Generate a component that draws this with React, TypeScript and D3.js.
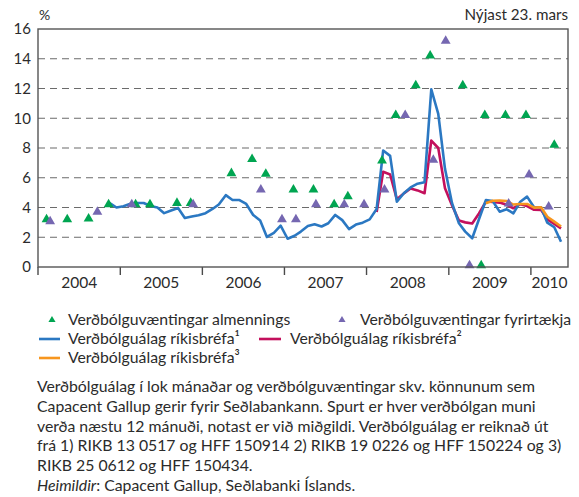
import React from 'react'
import * as d3 from 'd3'

// monthly inflation premium, ríkisbréf 1 (mid-month points)
const blueMonths = ['2004-11', '2004-12', '2005-01', '2005-02', '2005-03', '2005-04', '2005-05', '2005-06', '2005-07', '2005-08', '2005-09', '2005-10', '2005-11', '2005-12', '2006-01', '2006-02', '2006-03', '2006-04', '2006-05', '2006-06', '2006-07', '2006-08', '2006-09', '2006-10', '2006-11', '2006-12', '2007-01', '2007-02', '2007-03', '2007-04', '2007-05', '2007-06', '2007-07', '2007-08', '2007-09', '2007-10', '2007-11', '2007-12', '2008-01', '2008-02', '2008-03', '2008-04', '2008-05', '2008-06', '2008-07', '2008-08', '2008-09', '2008-10', '2008-11', '2008-12', '2009-01', '2009-02', '2009-03', '2009-04', '2009-05', '2009-06', '2009-07', '2009-08', '2009-09', '2009-10', '2009-11', '2009-12', '2010-01', '2010-02', '2010-03', '2010-04', '2010-05']
const blueValues = [4.3, 4.0, 4.08, 4.25, 4.3, 4.3, 4.1, 4.0, 3.62, 3.8, 3.97, 3.3, 3.4, 3.48, 3.62, 3.9, 4.2, 4.83, 4.5, 4.5, 4.24, 3.5, 3.13, 2.02, 2.3, 2.78, 1.9, 2.1, 2.38, 2.75, 2.87, 2.72, 2.94, 3.5, 3.15, 2.55, 2.85, 2.98, 3.2, 3.9, 7.83, 7.47, 4.39, 4.96, 5.35, 5.6, 5.7, 11.95, 10.3, 6.6, 4.3, 2.94, 2.38, 1.93, 3.21, 4.5, 4.44, 3.72, 3.88, 3.61, 4.39, 4.73, 4.02, 4.02, 2.98, 2.67, 1.7]

// ríkisbréf 2
const redMonths = ['2008-02', '2008-03', '2008-04', '2008-05', '2008-06', '2008-07', '2008-08', '2008-09', '2008-10', '2008-11', '2008-12', '2009-01', '2009-02', '2009-03', '2009-04', '2009-05', '2009-06', '2009-07', '2009-08', '2009-09', '2009-10', '2009-11', '2009-12', '2010-01', '2010-02', '2010-03', '2010-04', '2010-05']
const redValues = [3.7, 6.4, 6.22, 4.55, 4.95, 5.28, 5.15, 4.96, 8.5, 8.0, 5.3, 4.15, 3.12, 3.0, 2.92, 3.6, 4.4, 4.38, 4.33, 4.18, 3.95, 4.22, 4.1, 3.85, 3.84, 3.2, 2.9, 2.6]

// ríkisbréf 3
const orangeMonths = ['2009-06', '2009-07', '2009-08', '2009-09', '2009-10', '2009-11', '2009-12', '2010-01', '2010-02', '2010-03', '2010-04', '2010-05']
const orangeValues = [4.29, 4.45, 4.46, 4.44, 4.2, 4.24, 4.24, 3.99, 4.02, 3.38, 3.05, 2.72]

// survey expectations, public (almennings)
const publicDates = ['2004-02-08', '2004-05-10', '2004-08-13', '2004-11-10', '2005-03-10', '2005-05-13', '2005-09-10', '2005-11-10', '2006-05-10', '2006-08-10', '2006-10-10', '2007-02-10', '2007-05-10', '2007-08-10', '2007-10-10', '2008-03-10', '2008-05-10', '2008-08-07', '2008-10-10', '2009-03-04', '2009-05-25', '2009-06-10', '2009-09-10', '2009-12-10', '2010-04-15']
const publicValues = [3.2, 3.2, 3.25, 4.2, 4.2, 4.2, 4.3, 4.3, 6.3, 7.25, 6.25, 5.2, 5.2, 4.2, 4.75, 7.15, 10.2, 12.2, 14.2, 12.2, 0.1, 10.2, 10.2, 10.2, 8.2]

// survey expectations, companies (fyrirtækja)
const firmDates = ['2004-02-24', '2004-09-21', '2005-02-21', '2005-11-21', '2006-09-18', '2006-12-21', '2007-02-21', '2007-05-21', '2007-09-24', '2007-12-21', '2008-03-21', '2008-06-21', '2008-10-24', '2008-12-18', '2009-04-03', '2009-09-24', '2009-12-24', '2010-03-21']
const firmValues = [3.07, 3.7, 4.2, 4.2, 5.2, 3.2, 3.2, 4.2, 4.2, 4.2, 5.2, 10.2, 7.2, 15.2, 0.1, 4.25, 6.2, 4.05]

const yTicks = [0, 2, 4, 6, 8, 10, 12, 14, 16]
const years = [2004, 2005, 2006, 2007, 2008, 2009, 2010]

const notes = [
  'Verðbólguálag í lok mánaðar og verðbólguvæntingar skv. könnunum sem',
  'Capacent Gallup gerir fyrir Seðlabankann. Spurt er hver verðbólgan muni',
  'verða næstu 12 mánuði, notast er við miðgildi. Verðbólguálag er reiknað út',
  'frá 1) RIKB 13 0517 og HFF 150914 2) RIKB 19 0226 og HFF 150224 og 3)',
  'RIKB 25 0612 og HFF 150434.',
]

const BLUE = '#2b78c2'
const RED = '#c3105c'
const ORANGE = '#f7961e'
const GREEN = '#00a551'
const PURPLE = '#7567b1'
const TEXT = '#2b2b2b'
const FONT = 'Lato, "Open Sans", sans-serif'

function App() {
  const width = 579
  const height = 497
  const plot = { left: 38, right: 568, top: 29, bottom: 267 }

  const parseMonth = (s: string) => {
    const [y, m] = s.split('-').map(Number)
    return new Date(y, m - 1, 15)
  }
  const parseDay = d3.timeParse('%Y-%m-%d')

  const xScale = d3
    .scaleTime()
    .domain([new Date(2004, 0, 1), new Date(2010, 5, 15)])
    .range([plot.left, plot.right])

  const yScale = d3.scaleLinear().domain([0, 16]).range([plot.bottom, plot.top])

  const line = d3
    .line<[Date, number]>()
    .x(d => xScale(d[0]))
    .y(d => yScale(d[1]))

  const series = [
    { color: RED, pts: redMonths.map((m, i) => [parseMonth(m), redValues[i]] as [Date, number]) },
    { color: BLUE, pts: blueMonths.map((m, i) => [parseMonth(m), blueValues[i]] as [Date, number]) },
    { color: ORANGE, pts: orangeMonths.map((m, i) => [parseMonth(m), orangeValues[i]] as [Date, number]) },
  ]

  const tri = d3.symbol().type(d3.symbolTriangle).size(42)()
  const triSmall = d3.symbol().type(d3.symbolTriangle).size(22)()

  const domainEnd = xScale.domain()[1]

  return (
    <svg width={width} height={height} style={{ position: 'absolute', left: 0, top: 0, background: '#fff' }} fontFamily={FONT}>
      {/* gridlines */}
      {yTicks.filter(t => t > 0 && t < 16).map(t => (
        <line key={t} x1={plot.left} x2={plot.right} y1={yScale(t)} y2={yScale(t)} stroke="#6b6b6b" strokeWidth="1.1" strokeDasharray="7 5" />
      ))}

      {/* y tick labels */}
      {yTicks.map(t => (
        <text key={t} x={31} y={yScale(t)} dy="0.36em" textAnchor="end" fontSize="15" fill={TEXT}>{t}</text>
      ))}
      <text x={39} y={20} fontSize="14" fill={TEXT}>%</text>
      <text x={568} y={20} textAnchor="end" fontSize="15.2" fill={TEXT}>Nýjast 23. mars</text>

      {/* year ticks and labels */}
      {years.map(yr => {
        const x0 = xScale(new Date(yr, 0, 1))
        const x1 = xScale(yr === 2010 ? domainEnd : new Date(yr + 1, 0, 1))
        return (
          <g key={yr}>
            <line x1={x0} x2={x0} y1={plot.bottom} y2={plot.bottom + 8} stroke="#4a4a4a" strokeWidth="1.4" />
            <text x={(x0 + x1) / 2} y={288} textAnchor="middle" fontSize="15.5" fill={TEXT}>{yr}</text>
          </g>
        )
      })}

      {/* lines */}
      {series.map(s => (
        <path key={s.color} d={line(s.pts) ?? ''} fill="none" stroke={s.color} strokeWidth="2.6" strokeLinejoin="round" />
      ))}

      {/* survey triangles */}
      {publicDates.map((d, i) => (
        <path key={'p' + d} d={tri ?? ''} transform={`translate(${xScale(parseDay(d) as Date)} ${yScale(publicValues[i])})`} fill={GREEN} />
      ))}
      {firmDates.map((d, i) => (
        <path key={'f' + d} d={tri ?? ''} transform={`translate(${xScale(parseDay(d) as Date)} ${yScale(firmValues[i])})`} fill={PURPLE} />
      ))}

      {/* frame */}
      <rect x={plot.left} y={plot.top} width={plot.right - plot.left} height={plot.bottom - plot.top} fill="none" stroke="#555" strokeWidth="1.4" />

      {/* legend */}
      <g fontSize="15.8" fill={TEXT}>
        <path d={triSmall ?? ''} transform="translate(52 320)" fill={GREEN} />
        <text x={68} y={325}>Verðbólguvæntingar almennings</text>
        <path d={triSmall ?? ''} transform="translate(342 320)" fill={PURPLE} />
        <text x={360} y={325}>Verðbólguvæntingar fyrirtækja</text>

        <line x1={39} x2={60} y1={339} y2={339} stroke={BLUE} strokeWidth="2.6" />
        <text x={68} y={344}>Verðbólguálag ríkisbréfa¹</text>
        <line x1={259} x2={281} y1={339} y2={339} stroke={RED} strokeWidth="2.6" />
        <text x={290} y={344}>Verðbólguálag ríkisbréfa²</text>

        <line x1={39} x2={60} y1={358} y2={358} stroke={ORANGE} strokeWidth="2.6" />
        <text x={68} y={363}>Verðbólguálag ríkisbréfa³</text>
      </g>

      {/* notes */}
      <g fontSize="15.8" fill={TEXT}>
        {notes.map((n, i) => (
          <text key={i} x={37} y={392 + i * 19.8}>{n}</text>
        ))}
        <text x={37} y={392 + 5 * 19.8}>
          <tspan fontStyle="italic">Heimildir</tspan>: Capacent Gallup, Seðlabanki Íslands.
        </text>
      </g>
    </svg>
  )
}

export default App
